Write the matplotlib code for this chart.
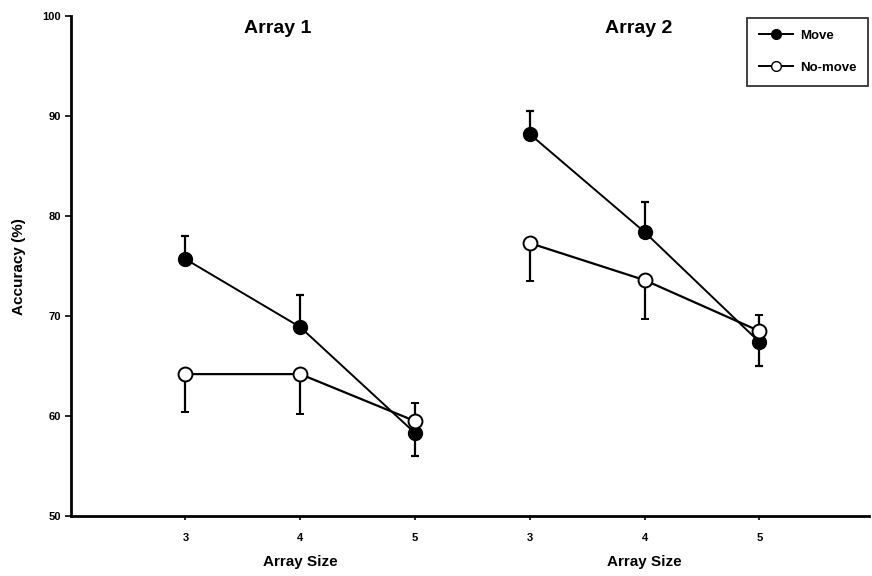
import numpy as np
import matplotlib
matplotlib.use("Agg")
import matplotlib.pyplot as plt
from matplotlib.lines import Line2D

plt.rcParams["font.family"] = ["Liberation Sans", "DejaVu Sans"]
plt.rcParams["font.weight"] = "bold"

# Accuracy (%) by array size, arrays 1 and 2 side by side
sizes = [3, 4, 5, 3, 4, 5]
move = [75.7, 68.9, 58.3, 88.2, 78.4, 67.4]
move_err_up = [2.3, 3.2, 0.0, 2.3, 3.0, 0.0]
move_err_dn = [0.0, 0.0, 2.3, 0.0, 0.0, 2.4]
nomove = [64.2, 64.2, 59.5, 77.3, 73.6, 68.5]
nomove_err_up = [0.0, 0.0, 1.8, 0.0, 0.0, 1.6]
nomove_err_dn = [3.8, 4.0, 0.0, 3.8, 3.9, 0.0]

pos = np.arange(1, len(sizes) + 1)

fig = plt.figure(figsize=(8.72, 5.76), dpi=100)
ax = fig.add_axes([0.081, 0.104, 0.915, 0.868])

for sl in (slice(0, 3), slice(3, 6)):
    ax.errorbar(pos[sl], np.array(move)[sl],
                yerr=[np.array(move_err_dn)[sl], np.array(move_err_up)[sl]],
                color="black", lw=1.4, marker="o", ms=10, mfc="black", mec="black",
                ecolor="black", elinewidth=1.6, capsize=3, capthick=1.6, zorder=3)
    ax.errorbar(pos[sl], np.array(nomove)[sl],
                yerr=[np.array(nomove_err_dn)[sl], np.array(nomove_err_up)[sl]],
                color="black", lw=1.6, marker="o", ms=10, mfc="white", mec="black",
                mew=1.4, ecolor="black", elinewidth=1.6, capsize=3, capthick=1.6,
                zorder=4)

ax.set_xlim(0, 6.95)
ax.set_ylim(50, 100)
ax.set_yticks(range(50, 101, 10))
ax.set_xticks(pos)
ax.set_xticklabels(sizes)
ax.tick_params(axis="y", labelsize=8, length=4, width=1.2, pad=3)
ax.tick_params(axis="x", labelsize=8, length=3, width=1.2, pad=9)
for lab in ax.get_xticklabels() + ax.get_yticklabels():
    lab.set_fontweight("bold")

ax.spines["top"].set_visible(False)
ax.spines["right"].set_visible(False)
ax.spines["left"].set_linewidth(2)
ax.spines["bottom"].set_linewidth(2)

ax.set_ylabel("Accuracy (%)", fontsize=11, fontweight="bold", labelpad=12)

for x, t in [(1.8, "Array 1"), (4.95, "Array 2")]:
    ax.text(x, 98.8, t, ha="center", va="center", fontsize=14, fontweight="bold")
for x in (2, 5):
    ax.text(x, 45.4, "Array Size", ha="center", va="center",
            fontsize=11, fontweight="bold")

handles = [
    Line2D([], [], color="black", lw=1.4, marker="o", ms=7, mfc="black", mec="black"),
    Line2D([], [], color="black", lw=1.4, marker="o", ms=7, mfc="white", mec="black"),
]
leg = ax.legend(handles, ["Move", "No-move"], loc="upper left",
                bbox_to_anchor=(0.848, 0.997), frameon=True, fancybox=False,
                edgecolor="black", fontsize=9.5, handlelength=2.6,
                borderpad=0.9, labelspacing=1.5, handletextpad=0.5,
                borderaxespad=0)
leg.get_frame().set_linewidth(1.3)
for txt in leg.get_texts():
    txt.set_fontweight("bold")

fig.savefig("out.png", dpi=100)
